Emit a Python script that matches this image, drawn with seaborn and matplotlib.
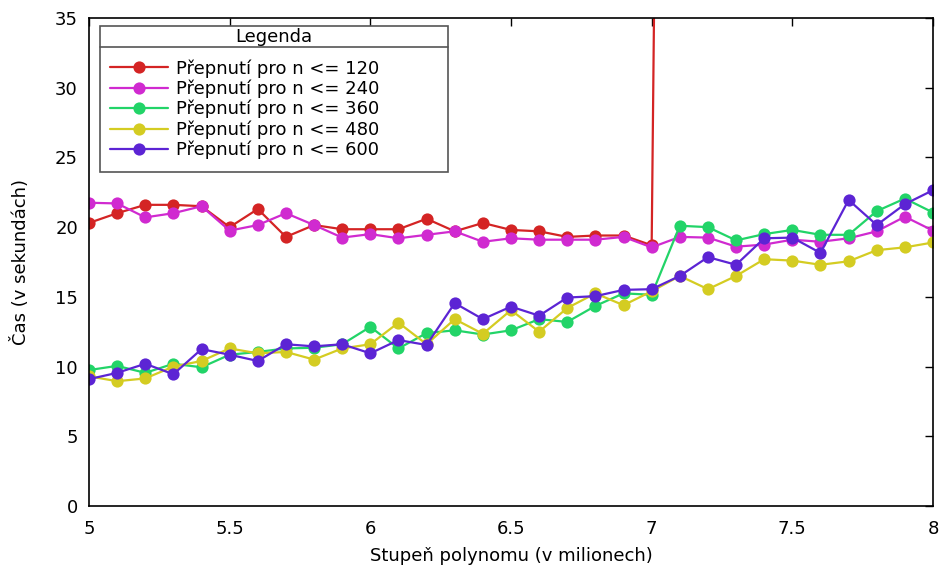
import numpy as np
import pandas as pd
import matplotlib
matplotlib.use("Agg")
import matplotlib.pyplot as plt
from matplotlib.lines import Line2D
from matplotlib.patches import Rectangle
import seaborn as sns

# Polynomial degree in millions
degree = [round(5.0 + 0.1 * i, 1) for i in range(31)]

# Run times in seconds for each switching threshold
t_120 = [20.3, 21.0, 21.6, 21.6, 21.5, 20.0, 21.3, 19.3, 20.15, 19.85, 19.85,
         19.85, 20.6, 19.7, 20.3, 19.8, 19.7, 19.3, 19.4, 19.4, 18.7,
         217.0, 218.0, 216.5, 217.5, 218.5, 217.0, 218.0, 219.0, 218.5, 219.5]
t_240 = [21.75, 21.7, 20.7, 21.0, 21.5, 19.75, 20.15, 21.0, 20.15, 19.25, 19.5,
         19.2, 19.45, 19.7, 18.95, 19.2, 19.1, 19.1, 19.1, 19.3, 18.55,
         19.3, 19.25, 18.6, 18.75, 19.1, 18.95, 19.2, 19.7, 20.75, 19.75]
t_360 = [9.75, 10.05, 9.55, 10.2, 9.95, 10.85, 11.05, 11.3, 11.35, 11.6, 12.85,
         11.3, 12.4, 12.6, 12.3, 12.6, 13.4, 13.2, 14.35, 15.25, 15.15,
         20.1, 20.0, 19.05, 19.5, 19.8, 19.45, 19.45, 21.15, 22.05, 21.05]
t_480 = [9.3, 8.95, 9.15, 10.0, 10.4, 11.3, 10.95, 11.05, 10.5, 11.3, 11.6,
         13.15, 11.6, 13.4, 12.35, 14.05, 12.5, 14.2, 15.25, 14.4, 15.4,
         16.5, 15.55, 16.5, 17.7, 17.6, 17.3, 17.55, 18.35, 18.55, 18.9]
t_600 = [9.1, 9.55, 10.2, 9.45, 11.25, 10.85, 10.4, 11.6, 11.45, 11.6, 10.95,
         11.9, 11.55, 14.55, 13.4, 14.3, 13.65, 14.95, 15.05, 15.5, 15.55,
         16.5, 17.85, 17.3, 19.2, 19.25, 18.15, 21.95, 20.15, 21.65, 22.65]

series_names = ["Přepnutí pro n <= 120", "Přepnutí pro n <= 240",
                "Přepnutí pro n <= 360", "Přepnutí pro n <= 480",
                "Přepnutí pro n <= 600"]
series_values = [t_120, t_240, t_360, t_480, t_600]
colors = ["#d42424", "#d02ad0", "#22d468", "#d4cc22", "#5c24d4"]

x_ticks = [5, 5.5, 6, 6.5, 7, 7.5, 8]
x_tick_labels = ["5", "5.5", "6", "6.5", "7", "7.5", "8"]
y_ticks = [0, 5, 10, 15, 20, 25, 30, 35]

frames = [pd.DataFrame({"degree": degree, "time": vals, "series": name})
          for name, vals in zip(series_names, series_values)]
df = pd.concat(frames, ignore_index=True)

sns.set_theme(style="white")
plt.rcParams["font.family"] = ["DejaVu Sans"]
plt.rcParams["text.color"] = "black"
plt.rcParams["axes.labelcolor"] = "black"

W, H = 941, 568
fig = plt.figure(figsize=(W / 100, H / 100), dpi=100)
ax_l, ax_r, ax_t, ax_b = 89, 933, 18, 506
ax = fig.add_axes([ax_l / W, 1 - ax_b / H, (ax_r - ax_l) / W, (ax_b - ax_t) / H])


def ax_frac(px, py):
    """Pixel position in the figure -> axes fraction."""
    return (px - ax_l) / (ax_r - ax_l), (ax_b - py) / (ax_b - ax_t)


sns.lineplot(data=df, x="degree", y="time", hue="series", hue_order=series_names,
             palette=colors, marker="o", markersize=8.8, markeredgewidth=0,
             linewidth=1.6, sort=False, ax=ax, legend=False)

ax.set_xlim(5, 8)
ax.set_ylim(0, 35)
ax.set_xticks(x_ticks)
ax.set_xticklabels(x_tick_labels)
ax.set_yticks(y_ticks)
ax.tick_params(axis="both", which="both", direction="in", top=True, right=True,
               length=6, width=1, labelsize=13, colors="black", pad=8)
ax.tick_params(axis="x", pad=10)
for s in ax.spines.values():
    s.set_color("black")
    s.set_linewidth(1.2)

ax.set_xlabel("Stupeň polynomu (v milionech)", fontsize=13, color="black")
ax.set_ylabel("Čas (v sekundách)", fontsize=13, color="black")
ax.xaxis.set_label_coords(0.5, ax_frac(0, 547)[1])
ax.yaxis.set_label_coords(ax_frac(30, 0)[0], 0.5)

# Legend box with a title row
bx0, by0 = ax_frac(100, 172)
bx1, by1 = ax_frac(448, 26)
ax.add_patch(Rectangle((bx0, by0), bx1 - bx0, by1 - by0, transform=ax.transAxes,
                       facecolor="white", edgecolor="#555555", linewidth=1.2,
                       zorder=4.8, clip_on=False))
sep_y = ax_frac(0, 47)[1]
ax.add_line(Line2D([bx0, bx1], [sep_y, sep_y], transform=ax.transAxes,
                   color="#555555", linewidth=1.2, zorder=4.9, clip_on=False))
ax.text((bx0 + bx1) / 2, ax_frac(0, 37)[1], "Legenda", transform=ax.transAxes,
        ha="center", va="center", fontsize=13, color="black", zorder=6)

handles = [Line2D([0], [0], color=c, marker="o", markersize=8.8,
                  markeredgewidth=0, linewidth=1.6) for c in colors]
leg = ax.legend(handles, series_names, loc="upper left",
                bbox_to_anchor=ax_frac(110, 59), borderaxespad=0,
                frameon=False, fontsize=13, handlelength=3.2,
                handletextpad=0.45, labelspacing=0.11, borderpad=0,
                labelcolor="black")
leg.set_zorder(6)

fig.savefig("out.png", dpi=100)
